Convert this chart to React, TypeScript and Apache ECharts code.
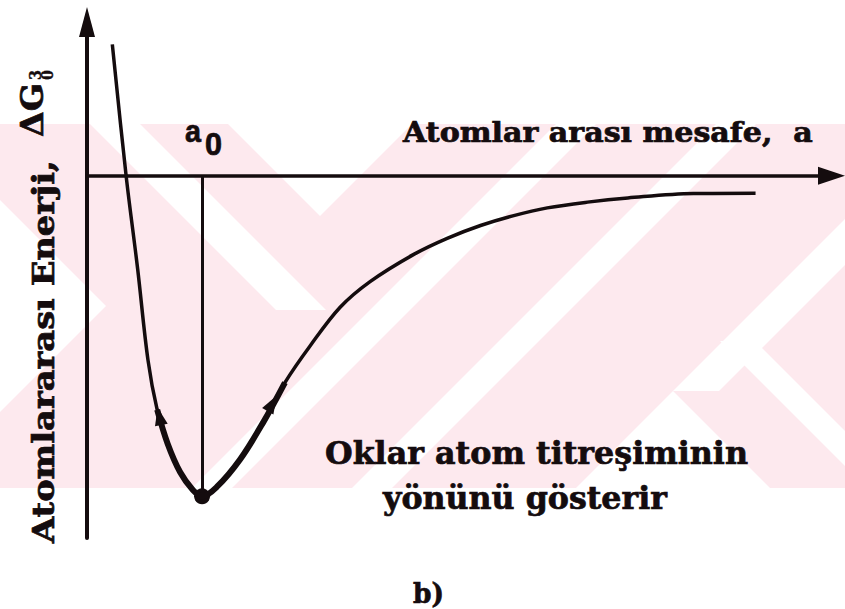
import React, { useEffect, useRef } from "react";
import * as echarts from "echarts";

// Interatomic distance (a0 = 1) and potential energy (well depth = -1)
const distance = [
  0.22, 0.34, 0.44, 0.53, 0.61, 0.7, 0.81, 0.92, 1.0, 1.13, 1.33, 1.53, 1.72,
  1.94, 2.2, 2.46, 2.84, 3.13, 3.42, 3.7, 4.0, 4.35, 4.7, 5.27, 5.81,
];
const energy = [
  0.41, 0.0, -0.29, -0.575, -0.73, -0.835, -0.925, -0.98, -1.0, -0.97, -0.885,
  -0.77, -0.645, -0.53, -0.41, -0.33, -0.245, -0.195, -0.155, -0.125, -0.1,
  -0.082, -0.069, -0.055, -0.054,
];

// Equilibrium spacing and the two vibration arrows on the well walls
const equilibrium = [1.0, -1.0];
const arrowPoints = [
  [0.63, -0.75],
  [1.61, -0.71],
];
const arrowAngles = [12, -30];

const xTitle = "Atomlar arası mesafe,  a";
const yTitle = "Atomlararası Enerji,";
const noteLines = ["Oklar atom titreşiminin", "yönünü gösterir"];
const panelTag = "b)";

const INK = "#140c0e";
const PINK = "#fde9ee";

// background stamp: pink band with white diagonal gaps
const stampGaps: number[][][] = [
  [[228, 124], [412, 124], [320, 216]],
  [[576, 488], [770, 488], [673, 391]],
  [[90, 124], [140, 124], [326, 310], [276, 310]],
  [[556, 124], [596, 124], [232, 488], [192, 488]],
  [[716, 124], [756, 124], [392, 488], [352, 488]],
  [[845, 219], [845, 265], [719, 391], [673, 391]],
  [[720, 341], [755, 341], [845, 431], [845, 466]],
  [[0, 200], [106, 306], [0, 412]],
];

function measure(text: string, font: string): number {
  const ctx = document.createElement("canvas").getContext("2d")!;
  ctx.font = font;
  return ctx.measureText(text).width;
}

// text placed by its left end and baseline, stretched to a given length
function fittedText(
  text: string,
  family: string,
  size: number,
  left: number,
  baseline: number,
  length: number,
  vertical = false,
  weight = 0.7
) {
  const font = `bold ${size}px ${family}`;
  const s = length / measure(text, font);
  const mid = 0.345 * size;
  return {
    type: "text",
    z: 100,
    x: vertical ? baseline - mid : left,
    y: vertical ? left : baseline - mid,
    rotation: vertical ? Math.PI / 2 : 0,
    scaleX: s,
    style: {
      text,
      font,
      fill: INK,
      stroke: INK,
      lineWidth: weight,
      align: "left",
      verticalAlign: "middle",
      textAlign: "left",
      textVerticalAlign: "middle",
    },
  };
}

export default function App() {
  const ref = useRef<HTMLDivElement>(null);

  useEffect(() => {
    const chart = echarts.init(ref.current!, null, { renderer: "svg" });
    const curve = distance.map((d, i) => [d, energy[i]]);
    const wellBottom = curve.filter((p) => p[0] >= 0.6 && p[0] <= 1.73);
    const serif = '"DejaVu Serif"';
    const sans = '"Liberation Sans"';

    const stamp: any[] = [
      {
        type: "rect",
        z: -10,
        shape: { x: 0, y: 124, width: 845, height: 364 },
        style: { fill: PINK },
      },
      ...stampGaps.map((pts) => ({
        type: "polygon",
        z: -9,
        shape: { points: pts },
        style: { fill: "#ffffff" },
      })),
    ];

    const texts: any[] = [
      fittedText(xTitle, serif, 27, 403, 142, 410),
      fittedText(noteLines[0], serif, 31, 325, 464, 423),
      fittedText(noteLines[1], serif, 31, 383, 509, 284),
      fittedText(panelTag, serif, 28, 413, 602, 31),
      fittedText(yTitle, serif, 29, 543, 53, 383, true),
      fittedText("ΔG", serif, 31, 137, 43, 54, true),
      fittedText("3", serif, 16, 80, 41, 10, true, 0.4),
      fittedText("0", serif, 16, 80, 53, 10, true, 0.4),
      fittedText("a", sans, 32, 185, 141, 16),
      fittedText("0", sans, 31, 205, 155, 17),
    ];

    chart.setOption({
      animation: false,
      backgroundColor: "#ffffff",
      grid: { left: 87, right: 13.5, top: 22, bottom: 71 },
      xAxis: {
        type: "value",
        min: 0,
        max: 6.47,
        axisLine: {
          show: true,
          onZero: true,
          symbol: ["none", "triangle"],
          symbolSize: [18, 27],
          lineStyle: { color: INK, width: 3.5 },
        },
        axisTick: { show: false },
        axisLabel: { show: false },
        splitLine: { show: false },
      },
      yAxis: {
        type: "value",
        min: -1.13,
        max: 0.48,
        axisLine: {
          show: true,
          symbol: ["none", "triangle"],
          symbolSize: [16, 30],
          lineStyle: { color: INK, width: 4 },
        },
        axisTick: { show: false },
        axisLabel: { show: false },
        splitLine: { show: false },
      },
      graphic: { elements: [...stamp, ...texts] },
      series: [
        {
          type: "line",
          data: curve,
          smooth: 0.35,
          symbol: "none",
          lineStyle: { color: INK, width: 3.5 },
          markLine: {
            silent: true,
            symbol: ["none", "none"],
            label: { show: false },
            lineStyle: { color: INK, width: 3, type: "solid" },
            data: [
              [
                { coord: [equilibrium[0], 0] },
                { coord: [equilibrium[0], equilibrium[1]] },
              ],
            ],
          },
        },
        {
          type: "line",
          data: wellBottom,
          smooth: 0.35,
          symbol: "none",
          lineStyle: { color: INK, width: 6 },
        },
        {
          type: "scatter",
          data: arrowPoints.map((p, i) => ({
            value: p,
            symbolRotate: arrowAngles[i],
          })),
          symbol: "triangle",
          symbolSize: [13, 18],
          itemStyle: { color: INK, opacity: 1 },
        },
        {
          type: "scatter",
          data: [equilibrium],
          symbol: "circle",
          symbolSize: 16,
          itemStyle: { color: INK, opacity: 1 },
        },
      ],
    });

    return () => chart.dispose();
  }, []);

  return (
    <div
      ref={ref}
      style={{
        position: "absolute",
        left: 0,
        top: 0,
        width: 845,
        height: 609,
        background: "#ffffff",
      }}
    />
  );
}
